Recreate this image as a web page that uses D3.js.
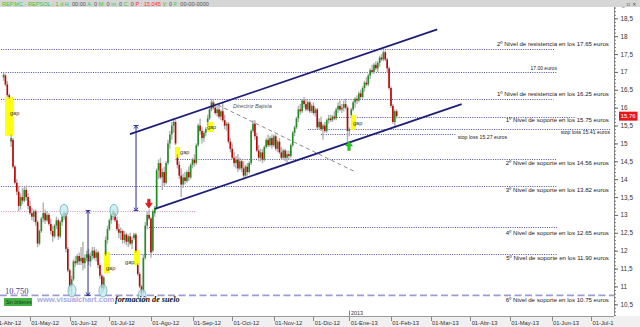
<!DOCTYPE html>
<html lang="es">
<meta charset="utf-8">
<title>REPSOL diario</title>
<script src="https://d3js.org/d3.v7.min.js"></script>
<style>
  body { margin: 0; background: #fff; }
  svg { display: block; font-family: "Liberation Sans", Arial, sans-serif; }
</style>
<svg width="640" height="327"></svg>
<script>
// month ticks of the time axis (trading days drawn per month)
var months = ["Abr-12","May-12","Jun-12","Jul-12","Ago-12","Sep-12","Oct-12","Nov-12","Dic-12","Ene-13","Feb-13","Mar-13","Abr-13","May-13","Jun-13","Jul-13"];
var monthDays = [19,21,21,22,22,21,22,21,19,22,21,21,21,22,21,21];
var firstCandleDay = 5; // first candle is the 6th session of April

// daily candles [open, high, low, close]
var abr12 = [[16.85,16.98,16.75,16.92],[16.9,16.95,16.6,16.65],[16.65,16.75,16.3,16.35],[16.35,16.4,16.25,16.3],
  [15.05,15.25,14.9,15.15],[15.1,15.15,14.3,14.35],[14.35,14.4,13.85,13.9],[13.9,14.0,13.55,13.65],
  [13.65,13.8,13.1,13.25],[13.25,13.6,13.15,13.5],[13.5,13.75,13.3,13.4],[13.4,13.8,13.35,13.7],
  [13.7,13.82,13.4,13.5],[13.5,13.6,13.15,13.25]];
var may12 = [[13.25,13.4,13.0,13.05],[13.05,13.2,12.85,12.95],[12.95,13.15,12.8,13.1],[13.1,13.15,12.7,12.8],
  [12.8,12.85,12.1,12.2],[12.2,12.6,12.15,12.55],[12.55,12.95,12.5,12.9],[12.9,13.35,12.8,13.05],
  [13.05,13.15,12.75,12.85],[12.85,13.1,12.8,13.0],[13.0,13.05,12.7,12.75],[12.75,12.9,12.45,12.55],
  [12.55,12.7,12.25,12.4],[12.4,12.75,12.35,12.7],[12.7,12.95,12.6,12.85],[12.85,12.9,12.3,12.4],
  [12.4,12.85,12.35,12.8],[12.8,13.05,12.7,12.95],[12.95,13.12,12.85,13.05],[13.05,13.1,11.95,12.05],
  [12.05,12.1,11.4,11.45]];
var jun12 = [[11.45,11.5,10.85,11.0],[11.0,11.3,10.75,11.2],[11.2,11.75,11.15,11.7],[11.7,11.85,11.55,11.65],
  [11.65,11.9,11.6,11.85],[11.85,11.95,11.6,11.7],[11.7,12.1,11.6,11.8],[11.8,12.25,11.45,11.65],
  [11.65,11.9,11.5,11.8],[11.8,12.0,11.7,11.9],[11.9,12.05,11.6,11.7],[11.7,11.95,11.55,11.85],
  [11.85,12.1,11.75,12.0],[12.0,12.1,11.75,11.8],[11.8,12.05,11.7,11.95],[11.95,12.0,11.5,11.6],
  [11.6,11.65,11.2,11.3],[11.3,11.35,10.8,10.95],[10.95,11.3,10.85,11.25],[11.9,12.4,11.85,12.3],
  [12.3,12.7,12.2,12.6]];
var jul12 = [[12.6,12.9,12.55,12.85],[12.85,13.05,12.75,13.0],[13.0,13.15,12.85,13.1],[13.05,13.1,12.8,12.85],
  [12.85,12.95,12.55,12.6],[12.6,12.75,12.35,12.5],[12.5,12.65,12.3,12.55],[12.55,12.6,12.2,12.3],
  [12.3,12.55,12.2,12.45],[12.45,12.5,12.15,12.25],[12.25,12.45,12.1,12.4],[12.4,12.5,12.15,12.2],
  [12.2,12.4,12.05,12.3],[12.35,12.5,12.3,12.45],[12.45,12.5,11.95,12.0],[11.6,11.65,11.3,11.35],
  [11.35,11.4,10.95,11.0],[11.0,11.05,10.7,10.8],[10.85,11.9,10.8,11.8],[11.8,12.8,11.75,12.7],
  [12.7,13.1,12.6,13.0],[13.0,13.15,12.85,12.9]];
var ago12 = [[12.9,12.95,11.8,11.95],[12.0,13.15,11.95,13.1],[13.05,13.25,12.95,13.2],[13.2,14.3,13.15,14.25],
  [14.25,14.55,14.0,14.45],[14.45,14.6,14.0,14.05],[14.05,14.3,13.7,14.2],[14.2,14.35,13.8,13.9],
  [13.9,14.5,13.85,14.45],[14.45,15.1,14.4,15.0],[15.0,15.35,14.85,15.25],[15.25,15.6,15.1,15.5],
  [15.5,15.7,15.3,15.6],[15.6,15.65,14.95,15.0],[14.6,14.7,14.3,14.4],[14.4,14.5,14.0,14.1],
  [14.1,14.3,13.5,13.85],[13.85,14.15,13.75,14.05],[14.05,14.2,13.85,13.95],[13.95,14.25,13.9,14.2],
  [14.2,14.35,13.95,14.05],[14.05,14.45,14.0,14.4]];
var sep12 = [[14.4,14.6,14.3,14.55],[14.55,14.7,14.35,14.45],[14.45,15.0,14.4,14.95],[14.95,15.55,14.9,15.5],
  [15.5,15.7,15.25,15.35],[15.35,15.45,15.0,15.15],[15.15,15.35,15.05,15.3],[15.3,15.45,15.2,15.4],
  [15.6,15.8,15.5,15.7],[15.7,16.0,15.65,15.95],[15.95,16.25,15.9,16.15],[16.15,16.25,15.95,16.0],
  [16.0,16.1,15.8,15.85],[15.85,16.05,15.75,15.95],[15.95,16.1,15.7,15.75],[15.75,15.95,15.65,15.9],
  [15.9,16.15,15.6,15.65],[15.65,15.8,15.4,15.5],[15.5,15.6,15.35,15.55],[15.55,15.6,15.0,15.05],
  [15.05,15.15,14.75,14.85]];
var oct12 = [[14.85,15.0,14.55,14.6],[14.6,14.75,14.35,14.45],[14.45,14.65,14.3,14.55],[14.55,14.7,14.2,14.3],
  [14.3,14.6,14.25,14.5],[14.5,14.55,14.2,14.3],[14.3,14.5,14.0,14.1],[14.1,14.4,14.05,14.35],
  [14.35,14.45,14.1,14.2],[14.2,14.5,14.15,14.45],[14.45,15.4,14.4,15.35],[15.35,15.65,15.3,15.55],
  [15.55,15.65,15.1,15.2],[15.2,15.3,14.75,14.8],[14.8,14.95,14.5,14.6],[14.6,14.85,14.5,14.75],
  [14.75,14.85,14.45,14.55],[14.55,14.95,14.5,14.9],[14.9,15.15,14.85,15.1],[15.1,15.25,14.9,14.95],
  [14.95,15.2,14.9,15.15],[15.15,15.25,14.85,14.95]];
var nov12 = [[14.95,15.25,14.9,15.2],[15.2,15.25,14.8,14.85],[14.85,15.1,14.75,15.05],[15.05,15.15,14.7,14.75],
  [14.75,14.9,14.55,14.6],[14.6,14.85,14.55,14.8],[14.8,14.85,14.5,14.6],[14.6,14.8,14.45,14.7],
  [14.7,14.8,14.55,14.65],[14.65,15.0,14.6,14.95],[14.95,15.35,14.9,15.3],[15.3,15.5,15.2,15.45],
  [15.45,15.75,15.4,15.7],[15.7,16.05,15.6,15.95],[15.95,16.1,15.8,15.9],[15.9,16.25,15.85,16.2],
  [16.2,16.3,16.0,16.1],[16.1,16.25,15.9,15.95],[15.95,16.2,15.9,16.15],[16.15,16.2,15.85,15.9],
  [15.9,16.1,15.85,16.05]];
var dic12 = [[16.05,16.15,15.8,15.85],[15.85,16.0,15.75,15.95],[15.95,16.0,15.4,15.45],[15.45,15.7,15.4,15.6],
  [15.6,15.75,15.35,15.4],[15.4,15.55,15.1,15.5],[15.5,15.6,15.3,15.35],[15.35,15.7,15.3,15.65],
  [15.65,15.8,15.55,15.7],[15.7,15.8,15.6,15.65],[15.65,15.8,15.6,15.75],[15.75,15.9,15.65,15.7],
  [15.7,16.0,15.65,15.95],[15.95,16.15,15.85,16.05],[16.05,16.2,15.9,15.95],[15.95,16.1,15.85,16.0],
  [16.0,16.2,15.9,16.1],[16.1,16.25,15.95,16.0],[16.0,16.05,15.05,15.35]];
var ene13 = [[15.35,15.45,15.2,15.4],[15.8,16.0,15.75,15.95],[15.95,16.2,15.9,16.15],[16.15,16.3,16.0,16.25],
  [16.25,16.35,16.1,16.2],[16.2,16.45,16.15,16.4],[16.4,16.5,16.25,16.3],[16.3,16.6,16.25,16.55],
  [16.55,16.75,16.45,16.7],[16.7,16.85,16.6,16.65],[16.65,16.95,16.6,16.9],[16.9,17.1,16.8,17.05],
  [17.05,17.2,16.95,17.0],[17.0,17.25,16.95,17.2],[17.2,17.3,17.05,17.1],[17.1,17.3,17.0,17.25],
  [17.25,17.45,17.15,17.4],[17.4,17.5,17.3,17.35],[17.35,17.6,17.3,17.55],[17.55,17.6,17.3,17.35],
  [17.35,17.4,17.0,17.1],[17.1,17.15,16.5,16.55]];
var feb13 = [[16.55,16.6,16.0,16.05],[16.05,16.1,15.55,15.6],[15.6,15.95,15.45,15.9],[15.9,15.95,15.7,15.76]];
var lastPrice = 15.76;

// horizontal levels: price, from day, to day, label
var levelPrice = [17.65, 17.00, 16.25, 15.75, 15.41, 15.27, 14.56, 13.82, 12.65, 11.90];
var levelFrom  = [0, 0, 0, 180, 166, 173, 96, 0, 82, 61];
var levelTo    = [297, 298, 296, 308, 326, 244, 298, 298, 298, 298];
var levelText  = ["2º Nivel de resistencia en los 17.65 euros", "17.00 euros",
  "1º Nivel de resistencia en los 16.25 euros", "1º Nivel de soporte en los 15.75 euros",
  "stop loss 15.41 euros", "stop loss 15.27 euros", "2º Nivel de soporte en los 14.56 euros",
  "3º Nivel de soporte en los 13.82 euros", "4º Nivel de soporte en los 12.65 euros",
  "5º Nivel de soporte en los 11.90 euros"];
var floorPrice = 10.75, floorText = "6º Nivel de soporte en los 10.75 euros";
var neckPrice = 13.10, neckTo = 107;

// drawn objects, in (day, price)
var channelTop = [[71.9, 15.26], [234.5, 18.19]];
var channelBottom = [[85.1, 13.17], [247.4, 16.10]];
var downTrend = [[115.1, 16.16], [190.9, 14.21]];
var measures = [[49.7, 10.75, 13.12], [75.1, 13.12, 15.50]];
var lows = [[37, 13.12], [41.2, 10.88], [57.6, 10.88], [63.4, 13.12], [78.3, 10.74]];
var gaps = [[5.8, 10, 16.30, 15.21], [58.1, 61.3, 11.96, 11.37], [74, 77.2, 12.02, 11.60],
  [95.7, 98.4, 14.90, 14.59], [112.6, 115.8, 15.60, 15.32], [188.8, 191.5, 15.80, 15.38]];
var gapLabels = [[8.4, 15.80], [59.2, 11.46], [69.3, 11.63], [98.4, 14.71], [112.6, 15.40], [189.9, 15.52]];
var sellSignal = [81.9, 13.19];
var buySignal = [187.8, 15.07];

var svg = d3.select("svg");
var plotRight = 614, plotTop = 7, plotBottom = 316;

var monthStart = [0];
monthDays.forEach(function(n, k) { monthStart.push(monthStart[k] + n); });

var x = d3.scaleLinear().domain([0, 316]).range([-5.9, 591.3]);
var y = d3.scaleLinear().domain([10.5, 18.5]).range([304.3, 18.3]);

var bars = [];
[abr12, may12, jun12, jul12, ago12, sep12, oct12, nov12, dic12, ene13, feb13].forEach(function(m, k) {
  m.forEach(function(c, j) {
    bars.push({i: monthStart[k] + j + (k === 0 ? firstCandleDay : 0), o: c[0], h: c[1], l: c[2], c: c[3]});
  });
});

svg.append("rect").attr("width", 640).attr("height", 327).attr("fill", "#fff");
svg.append("rect").attr("width", 640).attr("height", plotTop).attr("fill", "#d6d6d6");
svg.append("rect").attr("y", plotBottom).attr("width", 640).attr("height", 327 - plotBottom).attr("fill", "#f0f0f0");

svg.append("clipPath").attr("id", "plotclip")
  .append("rect").attr("x", 0).attr("y", plotTop).attr("width", plotRight).attr("height", plotBottom - plotTop);

var g = svg.append("g").attr("clip-path", "url(#plotclip)");

// level lines
var lv = levelPrice.map(function(p, k) { return {p: p, a: levelFrom[k], b: levelTo[k], t: levelText[k]}; });
g.selectAll("line.level").data(lv).join("line")
  .attr("x1", function(d) { return x(d.a); }).attr("x2", function(d) { return x(d.b); })
  .attr("y1", function(d) { return Math.round(y(d.p)) + 0.5; }).attr("y2", function(d) { return Math.round(y(d.p)) + 0.5; })
  .attr("stroke", "#4e4ea6").attr("stroke-width", 1).attr("stroke-dasharray", "1,1.3");

g.append("line").attr("x1", x(0)).attr("x2", x(neckTo))
  .attr("y1", Math.round(y(neckPrice)) + 0.5).attr("y2", Math.round(y(neckPrice)) + 0.5)
  .attr("stroke", "#d58cc8").attr("stroke-width", 1).attr("stroke-dasharray", "1,1.3");

g.append("line").attr("x1", 0).attr("x2", plotRight).attr("y1", y(floorPrice)).attr("y2", y(floorPrice))
  .attr("stroke", "#9c9cd2").attr("stroke-width", 1.6).attr("stroke-dasharray", "7,3.5");

// gaps
g.selectAll("rect.gap").data(gaps).join("rect")
  .attr("x", function(d) { return x(d[0]); }).attr("width", function(d) { return x(d[1]) - x(d[0]); })
  .attr("y", function(d) { return y(d[2]); }).attr("height", function(d) { return y(d[3]) - y(d[2]); })
  .attr("fill", "#ffff10");

// candles
g.selectAll("line.wick").data(bars).join("line")
  .attr("x1", function(d) { return x(d.i); }).attr("x2", function(d) { return x(d.i); })
  .attr("y1", function(d) { return y(d.h); }).attr("y2", function(d) { return y(d.l); })
  .attr("stroke", "#b0b0b0").attr("stroke-width", 1.4);
g.selectAll("rect.body").data(bars).join("rect")
  .attr("x", function(d) { return x(d.i) - 0.8; }).attr("width", 1.6)
  .attr("y", function(d) { return y(Math.max(d.o, d.c)); })
  .attr("height", function(d) { return Math.max(0.8, Math.abs(y(d.o) - y(d.c))); })
  .attr("fill", function(d) { return d.c >= d.o ? "#1f8f1f" : "#c40000"; });

g.selectAll("text.gap").data(gapLabels).join("text")
  .attr("x", function(d) { return x(d[0]); }).attr("y", function(d) { return y(d[1]); })
  .attr("font-size", 5.6).attr("fill", "#333").text("gap");

// channel and trend lines
var line = d3.line().x(function(d) { return x(d[0]); }).y(function(d) { return y(d[1]); });
[channelTop, channelBottom].forEach(function(c) {
  g.append("path").attr("d", line(c)).attr("stroke", "#1e1e78").attr("stroke-width", 1.7).attr("fill", "none");
});
g.append("path").attr("d", line(downTrend)).attr("stroke", "#8a8a8a").attr("stroke-width", 1)
  .attr("stroke-dasharray", "4,3").attr("fill", "none");
g.append("text").attr("x", x(126.4)).attr("y", y(15.99)).attr("font-size", 5.6)
  .attr("font-style", "italic").attr("fill", "#555").text("Directriz Bajista");

// measured moves
measures.forEach(function(m) {
  var xm = x(m[0]), y0 = y(m[1]), y1 = y(m[2]);
  g.append("line").attr("x1", xm).attr("x2", xm).attr("y1", y0).attr("y2", y1)
    .attr("stroke", "#2a2a88").attr("stroke-width", 1);
  [y0, y1].forEach(function(yy, k) {
    var s = k === 0 ? -1 : 1;
    g.append("path").attr("d", "M" + (xm - 2.5) + "," + yy + "h5M" + (xm - 2) + "," + (yy + s * 3) + "L" + xm + "," + yy + "L" + (xm + 2) + "," + (yy + s * 3))
      .attr("stroke", "#2a2a88").attr("stroke-width", 0.9).attr("fill", "none");
  });
});

// marked lows and highs
g.selectAll("ellipse").data(lows).join("ellipse")
  .attr("cx", function(d) { return x(d[0]); }).attr("cy", function(d) { return y(d[1]); })
  .attr("rx", 4).attr("ry", 6.3)
  .attr("fill", "#bfe8ee").attr("fill-opacity", 0.7).attr("stroke", "#63aeb8").attr("stroke-width", 0.8);

// signals
var sx = x(sellSignal[0]), sy = y(sellSignal[1]);
g.append("path").attr("d", "M" + (sx - 1.3) + "," + (sy - 9) + "h2.6v4h2.2L" + sx + "," + sy + "L" + (sx - 3.5) + "," + (sy - 5) + "h2.2z")
  .attr("fill", "#e81818").attr("stroke", "#a00000").attr("stroke-width", 0.4);
var bx = x(buySignal[0]), by = y(buySignal[1]);
g.append("path").attr("d", "M" + bx + "," + by + "L" + (bx + 3.5) + "," + (by + 5) + "h-2.2v4.5h-2.6v-4.5h-2.2z")
  .attr("fill", "#22cc22").attr("stroke", "#118811").attr("stroke-width", 0.4);

// level labels
var labelAt = [325.3, 297.8, 325.3, 325.3, 325.9, 271.4, 325.3, 325.3, 325.3, 325.3];
var labelDy = [-2.5, -1.6, -2.5, 5.6, 5.2, 5.2, 5.7, 6.5, 8, 6.2];
var labelSize = [6.1, 5, 6.1, 6.1, 5.2, 5.2, 6.1, 6.1, 6.1, 6.1];
g.selectAll("text.level").data(lv).join("text")
  .attr("x", function(d, k) { return x(labelAt[k]); })
  .attr("y", function(d, k) { return y(d.p) + labelDy[k]; })
  .attr("text-anchor", "end").attr("font-size", function(d, k) { return labelSize[k]; })
  .attr("fill", "#222").text(function(d) { return d.t; });
g.append("text").attr("x", x(325.3)).attr("y", y(floorPrice) + 6.2).attr("text-anchor", "end")
  .attr("font-size", 6.1).attr("fill", "#222").text(floorText);

// footer marks
g.append("text").attr("x", 5).attr("y", y(floorPrice) - 1.6).attr("font-family", "Liberation Serif, serif")
  .attr("font-size", 8.5).attr("fill", "#3c3c90").text("10.750");
g.append("rect").attr("x", 4).attr("y", 298).attr("width", 28).attr("height", 8).attr("fill", "#44b044");
g.append("text").attr("x", 6).attr("y", 304).attr("font-size", 4.8).attr("fill", "#0b3a0b").text("Sin órdenes");
g.append("text").attr("x", 37).attr("y", 302).attr("font-size", 7.6).attr("font-weight", "bold")
  .attr("fill", "#a9a9dc").text("www.visualchart.com");
g.append("text").attr("x", 115).attr("y", 302).attr("font-family", "Liberation Serif, serif")
  .attr("font-size", 8.2).attr("font-weight", "bold").attr("font-style", "italic").attr("fill", "#111").text("formación de suelo");

// price axis
svg.append("line").attr("x1", plotRight + 0.5).attr("x2", plotRight + 0.5).attr("y1", plotTop).attr("y2", plotBottom)
  .attr("stroke", "#8c8c8c");
var minor = d3.range(102, 189).map(function(v) { return v / 10; });
svg.selectAll("line.minor").data(minor).join("line")
  .attr("x1", plotRight + 0.5).attr("x2", plotRight + 2)
  .attr("y1", function(d) { return y(d) + 0.5; }).attr("y2", function(d) { return y(d) + 0.5; })
  .attr("stroke", "#777");
var yAxis = svg.append("g").attr("transform", "translate(" + (plotRight + 0.5) + ",0)")
  .call(d3.axisRight(y).tickValues(d3.range(10.5, 18.51, 0.5)).tickSize(3.5).tickPadding(2.5)
    .tickFormat(function(d) { return String(d).replace(".", ","); }));
yAxis.select(".domain").remove();
yAxis.selectAll("line").attr("stroke", "#666");
yAxis.selectAll("text").attr("font-size", 6.4).attr("fill", "#333").attr("font-family", "Liberation Sans, Arial, sans-serif");

svg.append("rect").attr("x", 619).attr("y", y(lastPrice) - 4.6).attr("width", 18.5).attr("height", 9).attr("fill", "#e8161a");
svg.append("text").attr("x", 628.2).attr("y", y(lastPrice) + 2.1).attr("text-anchor", "middle")
  .attr("font-size", 6).attr("fill", "#fff").text(lastPrice.toFixed(2).replace(".", ","));

// time axis
svg.append("line").attr("x1", 0).attr("x2", plotRight).attr("y1", plotBottom + 0.5).attr("y2", plotBottom + 0.5).attr("stroke", "#9a9a9a");
svg.append("clipPath").attr("id", "taxis").append("rect").attr("x", 0).attr("y", plotBottom).attr("width", plotRight).attr("height", 11);
var ta = svg.append("g").attr("clip-path", "url(#taxis)");
ta.selectAll("line").data(months).join("line")
  .attr("x1", function(d, k) { return Math.round(x(monthStart[k])) + 0.5; })
  .attr("x2", function(d, k) { return Math.round(x(monthStart[k])) + 0.5; })
  .attr("y1", plotBottom + 1).attr("y2", plotBottom + 5).attr("stroke", "#888");
ta.selectAll("text").data(months).join("text")
  .attr("x", function(d, k) { return x(monthStart[k]) + 1.3; }).attr("y", 324.5)
  .attr("font-size", 5.8).attr("fill", "#333").text(function(d) { return "01-" + d; });
var xy = Math.round(x(monthStart[9])) + 0.5;
svg.append("line").attr("x1", xy).attr("x2", xy).attr("y1", 310.5).attr("y2", plotBottom).attr("stroke", "#888");
svg.append("text").attr("x", xy + 1.5).attr("y", 314.6).attr("font-size", 5.4).attr("fill", "#333").text("2013");

// header
var head = [["REP.MC - REPSOL - 1 d H: ", "#36c336"], ["00:00", "#555"], [" A: ", "#36c336"], ["0", "#555"],
  [" M: ", "#36c336"], ["0", "#555"], [" m: ", "#36c336"], ["0", "#555"], [" C: ", "#36c336"], ["0", "#555"],
  [" P : 15,045", "#ff3030"], [" V: ", "#36c336"], ["0", "#555"], [" F: ", "#36c336"], ["00-00-0000", "#555"]];
svg.append("text").attr("x", 2).attr("y", 5.6).attr("font-size", 5.6).attr("xml:space", "preserve")
  .selectAll("tspan").data(head).join("tspan")
  .attr("fill", function(d) { return d[1]; }).text(function(d) { return d[0]; });
svg.append("text").attr("x", 622).attr("y", 5.5).attr("font-size", 5.5).attr("fill", "#333")
  .attr("font-family", "DejaVu Sans, sans-serif").text("_ ▫ ×");
</script>
</html>
